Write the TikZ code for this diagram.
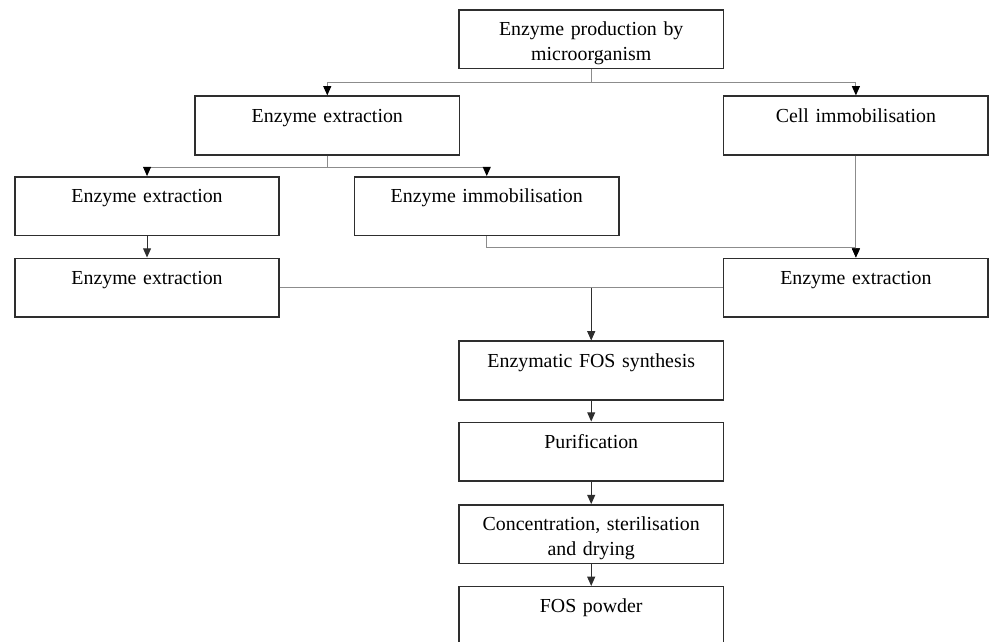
\documentclass[tikz,border=0pt]{standalone}
\usepackage{fontspec}
\setmainfont{Liberation Serif}
\usepackage{tikz}
\usetikzlibrary{arrows.meta,positioning}
\usepackage{xcolor}
\definecolor{ink}{HTML}{2E2E2E}
\definecolor{wire}{HTML}{8C8C8C}
\tikzset{
  >={Triangle[length=7pt,width=6pt]},
  every node/.style={font=\fontsize{15}{18.75}\selectfont,text=black},
  box/.style={draw=ink,line width=1.1pt,minimum width=7.01cm,text width=6.8cm,align=center,inner xsep=0pt,inner ysep=0pt,text height=0.69cm,text depth=0.87cm},
  flow/.style={->,draw=ink,line width=0.8pt},
  branch/.style={-{Triangle[length=7pt,width=6pt,color=black]},draw=wire,line width=0.8pt},
  link/.style={draw=wire,line width=0.8pt},
}

\begin{document}
\begin{tikzpicture}[x=1cm,y=1cm]
  \useasboundingbox (0,0) rectangle (26.23,17.01);

  \node[box] (prod) at (15.68,15.97) {Enzyme production by\\microorganism};
  \node[box] (extA) at (8.68,13.68) {Enzyme extraction};
  \node[box] (cellimm) at (22.70,13.68) {Cell immobilisation};
  \node[box] (extB) at (3.90,11.54) {Enzyme extraction};
  \node[box] (enzimm) at (12.91,11.54) {Enzyme immobilisation};
  \node[box] (extC) at (3.90,9.38) {Enzyme extraction};
  \node[box] (extD) at (22.70,9.38) {Enzyme extraction};
  \node[box] (synth) at (15.68,7.18) {Enzymatic FOS synthesis};
  \node[box] (purif) at (15.68,5.03) {Purification};
  \node[box] (conc) at (15.68,2.84) {Concentration, sterilisation\\and drying};
  \node[box] (powder) at (15.68,0.67) {FOS powder};

  \coordinate (splitA) at ([yshift=-0.36cm]prod.south);
  \draw[link] (prod.south) -- (splitA);
  \draw[branch] (splitA) -| (extA.north);
  \draw[branch] (splitA) -| (cellimm.north);

  \coordinate (splitB) at ([yshift=-0.32cm]extA.south);
  \draw[link] (extA.south) -- (splitB);
  \draw[branch] (splitB) -| (extB.north);
  \draw[branch] (splitB) -| (enzimm.north);

  \draw[flow] (extB) -- (extC);
  \draw[branch] (cellimm) -- (extD);
  \draw[branch] (enzimm.south) -- ++(0,-0.29) -| (extD.north);

  \draw[link] (extC) -- (extD);
  \coordinate (merge) at (extC.east -| synth.north);
  \draw[flow] (merge) -- (synth);
  \draw[flow] (synth) -- (purif);
  \draw[flow] (purif) -- (conc);
  \draw[flow] (conc) -- (powder);
\end{tikzpicture}
\end{document}
